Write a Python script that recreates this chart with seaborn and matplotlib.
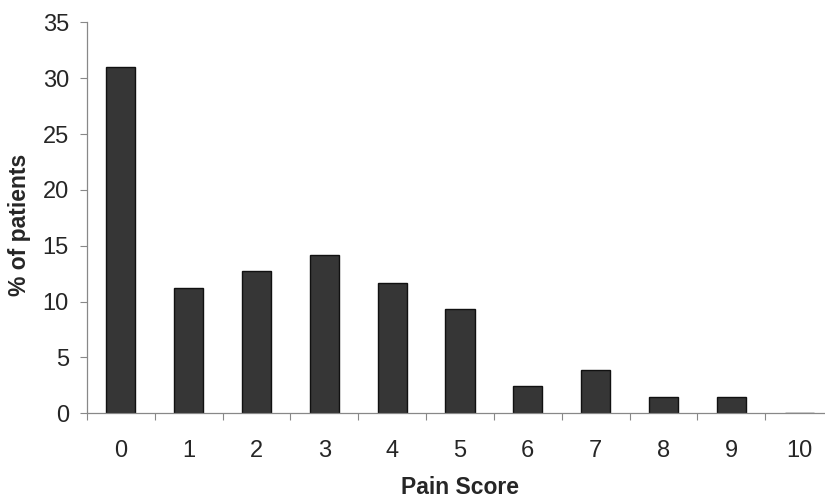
import matplotlib
matplotlib.use('Agg')
import matplotlib.pyplot as plt
import seaborn as sns
import numpy as np
import pandas as pd

# values
pain_score = ['0', '1', '2', '3', '4', '5', '6', '7', '8', '9', '10']
pct_patients = [31.0, 11.25, 12.75, 14.2, 11.7, 9.35, 2.45, 3.85, 1.5, 1.5, 0.0]

data = pd.DataFrame({'score': pain_score, 'pct': pct_patients})

sns.set_style('white')
plt.rcParams['font.family'] = ['Liberation Sans', 'DejaVu Sans']

fig = plt.figure(figsize=(8.25, 4.97), dpi=100)
ax = fig.add_axes([87/825, 1-413.3/497, (833-87)/825, (413.3-22.3)/497])

sns.barplot(data=data, x='score', y='pct', order=pain_score, color='#363636',
            edgecolor='#111111', linewidth=1.0, width=0.43, saturation=1, ax=ax)

ax.set_ylim(0, 35)
ax.set_xlim(-0.5, 10.5)
ax.set_yticks(range(0, 36, 5))
ax.set_xticks(np.arange(-0.5, 10.6, 1), minor=True)

ax.tick_params(axis='x', which='major', length=0, pad=19, labelsize=17)
ax.tick_params(axis='x', which='minor', length=5, width=0.8, color='#888888', direction='out', bottom=True)
ax.tick_params(axis='y', length=5, width=0.8, color='#888888', direction='out', pad=8, labelsize=17, left=True)

for s in ['top', 'right']:
    ax.spines[s].set_visible(False)
for s in ['left', 'bottom']:
    ax.spines[s].set_color('#888888')
    ax.spines[s].set_linewidth(0.9)

ax.set_xlabel('')
ax.set_ylabel('')
fig.text(460/825, 1-487/497, 'Pain Score', fontsize=16.5, fontweight='bold', ha='center', va='center')
fig.text(20/825, 1-225/497, '% of patients', fontsize=16.5, fontweight='bold', rotation=90, ha='center', va='center')

fig.savefig('out.png', dpi=100)
